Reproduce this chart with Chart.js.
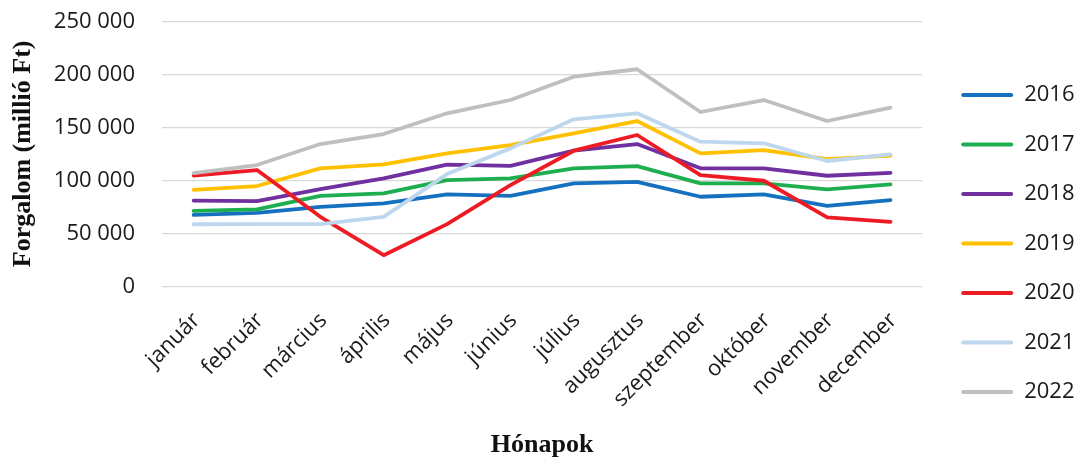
<!DOCTYPE html>
<html><head><meta charset="utf-8">
<script src="https://cdn.jsdelivr.net/npm/chart.js@4/dist/chart.umd.min.js"></script>
<style>html,body{margin:0;padding:0;background:#fff}canvas{display:block}</style>
</head><body>
<canvas id="c" width="1081" height="461"></canvas>
<script>
const months = ['január','február','március','április','május','június','július','augusztus','szeptember','október','november','december'];
const years = ['2016','2017','2018','2019','2020','2021','2022'];
const y2016 = [67500, 69500, 75100, 78300, 86800, 85500, 97200, 98700, 84600, 86800, 76100, 81500];
const y2017 = [71300, 72700, 85500, 87800, 100300, 101900, 111400, 113500, 97200, 97200, 91500, 96300];
const y2018 = [81000, 80500, 91800, 101900, 114800, 113800, 128000, 134300, 111400, 111400, 104400, 107200];
const y2019 = [91000, 94700, 111400, 115100, 125500, 133300, 144400, 156000, 125500, 128600, 120100, 123300];
const y2020 = [104600, 109800, 65700, 29500, 58800, 95600, 128000, 142800, 105000, 99700, 65100, 61000];
const y2021 = [58700, 58800, 58800, 65700, 106000, 130200, 157600, 163300, 136500, 135000, 118300, 124600];
const y2022 = [106800, 114500, 134300, 143700, 163300, 175800, 197800, 204800, 164500, 175800, 156000, 168600];
const yTicks = [0, 50000, 100000, 150000, 200000, 250000];
const colors = ['#1570BF', '#1DAF4F', '#7030A0', '#FFC000', '#ED1C24', '#BDD7EE', '#BFBFBF'];
const series = [y2016, y2017, y2018, y2019, y2020, y2021, y2022];

const FONT = "'Open Sans', sans-serif";
const SERIF = "'Liberation Serif', 'Times New Roman', serif";

const datasets = series.map((d, i) => ({
  label: years[i],
  data: d,
  borderColor: colors[i],
  backgroundColor: colors[i],
  borderWidth: 3.8,
  pointRadius: 0,
  borderJoinStyle: 'round',
  borderCapStyle: 'round',
  tension: 0,
  order: series.length - 1 - i
}));

new Chart(document.getElementById('c'), {
  type: 'line',
  data: { labels: months, datasets },
  options: {
    responsive: false,
    animation: false,
    devicePixelRatio: 1,
    layout: { padding: { left: 0, top: 21.3, right: -3.5, bottom: 0 } },
    plugins: {
      tooltip: { enabled: false },
      legend: {
        position: 'right',
        align: 'start',
        title: { display: true, text: '', font: { size: 12 }, padding: { top: 20.8, bottom: 0 } },
        labels: {
          boxWidth: 52,
          boxHeight: 4,
          padding: 27.5,
          color: '#1a1a1a',
          font: { family: FONT, size: 22 },
          useBorderRadius: true,
          borderRadius: 2,
          generateLabels: (chart) => chart.data.datasets.map((ds, i) => ({
            text: ds.label,
            fillStyle: ds.borderColor,
            strokeStyle: ds.borderColor,
            lineWidth: 0,
            borderRadius: 2,
            hidden: false,
            fontColor: '#1a1a1a',
            datasetIndex: i
          }))
        }
      }
    },
    scales: {
      x: {
        offset: true,
        grid: { display: false, drawTicks: false },
        border: { display: false },
        ticks: {
          autoSkip: false,
          maxRotation: 45,
          minRotation: 45,
          padding: 21,
          labelOffset: 3,
          color: '#1a1a1a',
          font: { family: FONT, size: 22 }
        },
        title: {
          display: true,
          text: 'Hónapok',
          color: '#111',
          font: { family: SERIF, size: 26, weight: 'bold' },
          padding: { top: 0, bottom: 0 }
        },
        afterFit: (s) => { s.height = 174.5; }
      },
      y: {
        min: 0,
        max: 250000,
        afterBuildTicks: (s) => { s.ticks = yTicks.map(v => ({ value: v })); },
        grid: { color: '#D9D9D9', lineWidth: 1.2, drawTicks: true, tickLength: 24, tickColor: 'rgba(0,0,0,0)' },
        border: { display: false },
        ticks: {
          padding: 3,
          color: '#1a1a1a',
          font: { family: FONT, size: 22 },
          callback: (v) => String(v).replace(/\B(?=(\d{3})+(?!\d))/g, ' ')
        },
        title: {
          display: true,
          text: 'Forgalom (millió Ft)',
          color: '#111',
          font: { family: SERIF, size: 26, weight: 'bold' },
          padding: { top: 7.5, bottom: 0 }
        },
        afterFit: (s) => { s.width = 162; }
      },
      gap: {
        type: 'linear',
        position: 'right',
        display: true,
        grid: { display: false, drawTicks: false },
        border: { display: false },
        ticks: { display: false },
        afterFit: (s) => { s.width = 11.5; }
      }
    }
  }
});
</script>
</body></html>
